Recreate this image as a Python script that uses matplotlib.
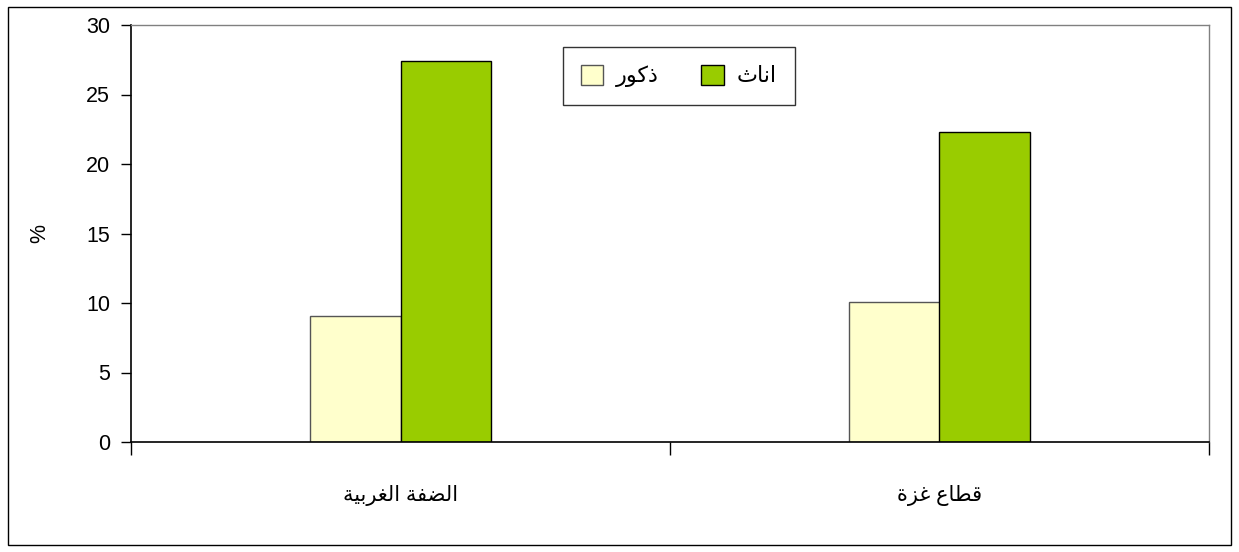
import matplotlib.pyplot as plt
import matplotlib.patches as mpatches
import numpy as np

plt.rcParams['font.family'] = ['Liberation Sans', 'DejaVu Sans']

# Arabic text written with presentation forms in visual (left-to-right) order
regions = ['\uFE94\uFEF4\uFE91\uFEAE\uFED0\uFEDF\uFE8D \uFE94\uFED4\uFEC0\uFEDF\uFE8D',   # الضفة الغربية
           '\uFE93\uFEB0\uFECF \uFEC9\uFE8E\uFEC4\uFED7']                                 # قطاع غزة
lab_male = '\uFEAD\uFEEE\uFEDB\uFEAB'      # ذكور
lab_female = '\uFE99\uFE8E\uFEE7\uFE8D'    # اناث
males = [9.1, 10.1]
females = [27.4, 22.3]

col_m = '#FFFFCC'
col_f = '#99CC00'

fig = plt.figure(figsize=(12.39, 5.52), dpi=100)
ax = fig.add_axes([131/1239, 110/552, 1078/1239, 417/552])

x = np.arange(len(regions))
w = 0.167
ax.bar(x - w/2, males, w, color=col_m, edgecolor='#555555', linewidth=1, label=lab_male)
ax.bar(x + w/2, females, w, color=col_f, edgecolor='black', linewidth=1, label=lab_female)

ax.set_xlim(-0.5, 1.5)
ax.set_ylim(0, 30)
ax.set_yticks(range(0, 31, 5))
ax.tick_params(axis='y', labelsize=15.5, length=7, width=1, pad=8)

ax.set_xticks(x)
ax.set_xticklabels(regions, fontsize=15)
ax.tick_params(axis='x', which='major', length=0, pad=31)
ax.set_xticks([-0.5, 0.5, 1.5], minor=True)
ax.tick_params(axis='x', which='minor', length=9, width=1, direction='out')

ax.set_ylabel('%', fontsize=15.5, labelpad=26)

for s in ['top', 'right']:
    ax.spines[s].set_color('#808080')
    ax.spines[s].set_linewidth(1)
for s in ['left', 'bottom']:
    ax.spines[s].set_color('black')
    ax.spines[s].set_linewidth(1.2)

leg = ax.legend(loc='upper left', bbox_to_anchor=((563-131)/1078, (442-47)/417), ncol=2,
                fontsize=16, frameon=True, fancybox=False, edgecolor='black',
                handlelength=1.0, handleheight=1.0, columnspacing=1.9,
                borderpad=0.8, handletextpad=0.6, borderaxespad=0)
leg.get_frame().set_linewidth(1)

fig.patches.append(mpatches.Rectangle((8/1239, 7/552), 1223/1239, 538/552, transform=fig.transFigure,
                                      fill=False, edgecolor='black', linewidth=1))

fig.savefig('out.png', dpi=100)
